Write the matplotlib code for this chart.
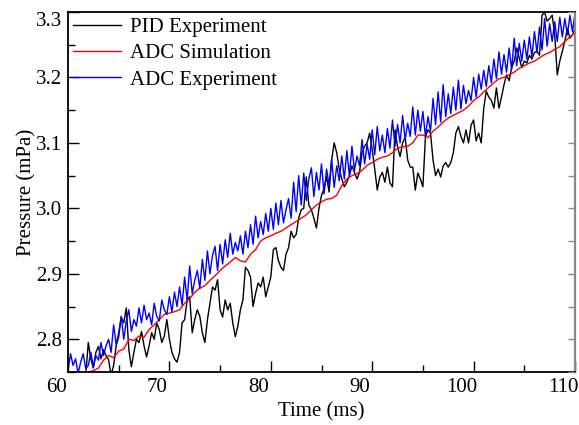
import numpy as np
import matplotlib
matplotlib.use("Agg")
import matplotlib.pyplot as plt
import matplotlib.transforms as mtransforms
from matplotlib.ticker import MultipleLocator, FormatStrFormatter

# ---------------- data ----------------
t_fast_start, t_step_fast = 60.0, 0.25
t_sim_start, t_step_sim = 60.0, 0.5

pid_experiment = [
    2.72, 2.73, 2.72, 2.735, 2.73, 2.74, 2.735, 2.745,
    2.795, 2.77, 2.756, 2.78, 2.789, 2.77, 2.784, 2.775,
    2.769, 2.745, 2.76, 2.79, 2.804, 2.834, 2.825, 2.848,
    2.784, 2.758, 2.78, 2.80, 2.795, 2.812, 2.79, 2.773,
    2.79, 2.81, 2.80, 2.825, 2.815, 2.795, 2.805, 2.83,
    2.80, 2.78, 2.77, 2.765, 2.78, 2.825, 2.83, 2.86,
    2.865, 2.81, 2.83, 2.845, 2.835, 2.81, 2.795, 2.83,
    2.855, 2.88, 2.875, 2.891, 2.845, 2.834, 2.86, 2.845,
    2.855, 2.825, 2.804, 2.82, 2.845, 2.86, 2.91, 2.905,
    2.895, 2.85, 2.87, 2.886, 2.88, 2.895, 2.865, 2.88,
    2.895, 2.937, 2.94, 2.92, 2.91, 2.905, 2.93, 2.94,
    2.965, 2.955, 2.96, 2.985, 2.998, 3.00, 3.048, 3.005,
    2.998, 2.985, 2.97, 3.00, 3.02, 3.03, 3.048, 3.025,
    3.074, 3.10, 3.085, 3.06, 3.045, 3.033, 3.04, 3.05,
    3.065, 3.055, 3.045, 3.055, 3.085, 3.095, 3.10, 3.115,
    3.09, 3.06, 3.028, 3.048, 3.055, 3.04, 3.063, 3.039,
    3.033, 3.12, 3.094, 3.079, 3.10, 3.109, 3.074, 3.063,
    3.063, 3.028, 3.054, 3.045, 3.033, 3.109, 3.12, 3.115,
    3.074, 3.05, 3.06, 3.048, 3.065, 3.07, 3.063, 3.07,
    3.085, 3.115, 3.125, 3.11, 3.10, 3.12, 3.10, 3.127,
    3.135, 3.103, 3.115, 3.10, 3.153, 3.179, 3.17, 3.165,
    3.153, 3.184, 3.153, 3.17, 3.189, 3.204, 3.195, 3.215,
    3.225, 3.245, 3.23, 3.215, 3.225, 3.222, 3.234, 3.228,
    3.238, 3.24, 3.234, 3.295, 3.30, 3.286, 3.29, 3.295,
    3.265, 3.204, 3.225, 3.24, 3.256, 3.275, 3.26, 3.265,
    3.275,
]

adc_simulation = [
    2.735, 2.738, 2.742, 2.745, 2.750, 2.752, 2.756, 2.768, 2.775, 2.772,
    2.782, 2.785, 2.800, 2.798, 2.805, 2.803, 2.815, 2.822, 2.830, 2.838,
    2.840, 2.842, 2.845, 2.855, 2.862, 2.872, 2.878, 2.882, 2.890, 2.897,
    2.905, 2.912, 2.918, 2.925, 2.920, 2.918, 2.930, 2.937, 2.950, 2.955,
    2.958, 2.962, 2.965, 2.970, 2.975, 2.980, 2.985, 2.990, 2.998, 3.005,
    3.010, 3.014, 3.015, 3.020, 3.035, 3.045, 3.050, 3.053, 3.058, 3.066,
    3.070, 3.075, 3.078, 3.080, 3.085, 3.092, 3.094, 3.095, 3.100, 3.112,
    3.112, 3.108, 3.118, 3.124, 3.132, 3.138, 3.142, 3.146, 3.150, 3.156,
    3.165, 3.170, 3.178, 3.185, 3.192, 3.198, 3.200, 3.204, 3.208, 3.214,
    3.218, 3.222, 3.225, 3.230, 3.235, 3.238, 3.243, 3.247, 3.255, 3.262,
    3.268,
]

adc_experiment = [
    2.752, 2.778, 2.760, 2.770, 2.748, 2.765, 2.778, 2.755,
    2.760, 2.780, 2.758, 2.775, 2.768, 2.795, 2.775, 2.790,
    2.800, 2.780, 2.822, 2.792, 2.810, 2.835, 2.800, 2.828,
    2.845, 2.812, 2.830, 2.820, 2.848, 2.825, 2.852, 2.830,
    2.840, 2.822, 2.855, 2.835, 2.828, 2.860, 2.845, 2.838,
    2.865, 2.842, 2.872, 2.850, 2.880, 2.852, 2.895, 2.860,
    2.912, 2.870, 2.890, 2.905, 2.878, 2.922, 2.890, 2.935,
    2.900, 2.928, 2.942, 2.905, 2.945, 2.915, 2.952, 2.925,
    2.962, 2.930, 2.948, 2.935, 2.958, 2.930, 2.965, 2.940,
    2.975, 2.945, 2.988, 2.955, 2.980, 2.960, 2.992, 2.965,
    3.000, 2.968, 3.008, 2.975, 3.012, 2.978, 2.998, 3.015,
    2.985, 3.040, 2.995, 3.050, 3.005, 3.054, 3.012, 3.045,
    3.062, 3.018, 3.055, 3.028, 3.068, 3.022, 3.060, 3.035,
    3.075, 3.032, 3.065, 3.042, 3.080, 3.045, 3.088, 3.050,
    3.095, 3.058, 3.080, 3.065, 3.105, 3.068, 3.098, 3.075,
    3.120, 3.082, 3.125, 3.088, 3.112, 3.085, 3.122, 3.092,
    3.135, 3.095, 3.128, 3.100, 3.142, 3.105, 3.130, 3.110,
    3.155, 3.112, 3.150, 3.118, 3.148, 3.110, 3.140, 3.118,
    3.168, 3.128, 3.178, 3.132, 3.189, 3.140, 3.175, 3.145,
    3.185, 3.150, 3.196, 3.152, 3.188, 3.160, 3.180, 3.165,
    3.200, 3.170, 3.205, 3.182, 3.211, 3.186, 3.218, 3.192,
    3.228, 3.198, 3.239, 3.205, 3.235, 3.208, 3.245, 3.212,
    3.260, 3.218, 3.252, 3.225, 3.257, 3.228, 3.262, 3.232,
    3.270, 3.238, 3.277, 3.242, 3.290, 3.248, 3.282, 3.255,
    3.285, 3.255, 3.292, 3.262, 3.290, 3.265, 3.295, 3.270,
    3.298,
]

labels = ["PID Experiment", "ADC Simulation", "ADC Experiment"]
x_label = "Time (ms)"
y_label = "Pressure (mPa)"

t_pid = t_fast_start + t_step_fast * np.arange(len(pid_experiment))
t_sim = t_sim_start + t_step_sim * np.arange(len(adc_simulation))
t_adc = t_fast_start + t_step_fast * np.arange(len(adc_experiment))

# ---------------- figure ----------------
plt.rcParams["font.family"] = ["Liberation Serif", "DejaVu Serif"]

W, H = 579, 425
fig = plt.figure(figsize=(W / 100, H / 100), dpi=100)
ax = fig.add_axes([68 / W, (H - 372) / H, (575 - 68) / W, (372 - 12) / H])

ax.plot(t_pid, pid_experiment, color="black", lw=1.0, label=labels[0])
ax.plot(t_sim, adc_simulation, color="red", lw=1.0, label=labels[1])
ax.plot(t_adc, adc_experiment, color="blue", lw=1.0, label=labels[2])

ax.set_xlim(60, 110)
ax.set_ylim(2.75, 3.3)
ax.xaxis.set_major_locator(MultipleLocator(10))
ax.xaxis.set_minor_locator(MultipleLocator(5))
ax.yaxis.set_major_locator(MultipleLocator(0.1))
ax.yaxis.set_minor_locator(MultipleLocator(0.05))
ax.yaxis.set_major_formatter(FormatStrFormatter("%.1f"))

ax.tick_params(which="both", direction="in", top=False, right=False,
               labelsize=15, color="black", width=1.0)
ax.tick_params(which="major", length=8)
ax.tick_params(which="minor", length=5)
ax.tick_params(axis="x", which="major", pad=4)
ax.tick_params(axis="y", which="major", pad=4)

# right side ticks (grey, equal length)
axr = ax.twinx()
axr.set_ylim(2.75, 3.3)
axr.yaxis.set_major_locator(MultipleLocator(0.05))
axr.tick_params(axis="y", direction="in", length=5, color="#888888",
                labelright=False, width=1.0)
for s in axr.spines.values():
    s.set_visible(False)

for name, sp in ax.spines.items():
    sp.set_linewidth(1.3)
    sp.set_color("black")
ax.spines["right"].set_color("#888888")
ax.spines["right"].set_linewidth(1.6)

ax.set_xlabel(x_label, fontsize=15, labelpad=4)
ax.set_ylabel(y_label, fontsize=15, labelpad=0)

leg = ax.legend(loc="upper left", frameon=False, fontsize=15,
                handlelength=2.3, handletextpad=0.45, labelspacing=0.33,
                borderaxespad=0.0, borderpad=0.25)

fig.canvas.draw()
# x tick labels sit slightly left of their ticks in the reference
xshift = mtransforms.ScaledTranslation(-12 / 100, 0, fig.dpi_scale_trans)
for lbl in ax.xaxis.get_majorticklabels():
    lbl.set_transform(lbl.get_transform() + xshift)
# top y label pushed down inside the figure
yshift = mtransforms.ScaledTranslation(0, -7 / 100, fig.dpi_scale_trans)
for tick in ax.yaxis.get_major_ticks():
    if abs(tick.get_loc() - 3.3) < 1e-6:
        tick.label1.set_transform(tick.label1.get_transform() + yshift)

fig.savefig("out.png", dpi=100)
